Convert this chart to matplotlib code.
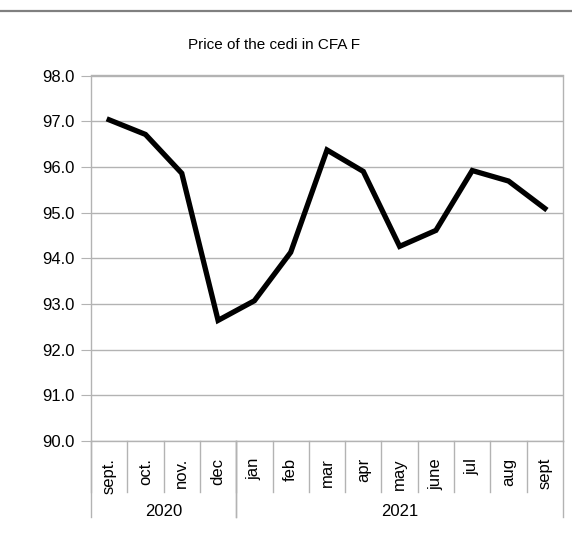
import matplotlib
matplotlib.use("Agg")
import matplotlib.pyplot as plt
from matplotlib.lines import Line2D

plt.rcParams["font.family"] = ["Liberation Sans", "DejaVu Sans"]

months = ["sept.", "oct.", "nov.", "dec", "jan", "feb", "mar",
          "apr", "may", "june", "jul", "aug", "sept"]
prices = [97.03, 96.71, 95.86, 92.64, 93.07, 94.13, 96.37,
          95.90, 94.26, 94.61, 95.92, 95.69, 95.09]
years = ["2020", "2021"]
year_spans = [(0, 3), (4, 12)]

GRID = "#b3b3b3"
W, H = 572, 554

fig = plt.figure(figsize=(W / 100, H / 100), dpi=100)
ax = fig.add_axes([91 / W, 1 - 441 / H, (563 - 91) / W, (441 - 75.5) / H])

x = list(range(len(months)))
ax.plot(x, prices, color="black", lw=3.8, solid_joinstyle="miter", zorder=3)

ax.set_xlim(-0.5, len(months) - 0.5)
ax.set_ylim(90, 98)
ax.set_yticks([90 + i for i in range(9)])
ax.set_yticklabels([f"{90 + i:.1f}" for i in range(9)], fontsize=12)
ax.yaxis.grid(True, color=GRID, lw=1)
ax.set_axisbelow(True)
ax.tick_params(axis="y", length=7.5, color=GRID, pad=4.5)
ax.set_xticks([])
for s in ax.spines.values():
    s.set_color(GRID)
    s.set_linewidth(1)

trans = ax.get_xaxis_transform()
ph = 441 - 75.5
# category separators and labels
for i, m in enumerate(months):
    ax.plot([i - 0.5, i - 0.5], [0, -51 / ph], transform=trans, color=GRID,
            lw=1, clip_on=False)
    ax.text(i, -17 / ph, m, transform=trans, rotation=90, ha="center",
            va="top", fontsize=12)
# year separators and labels
for (a, b), yr in zip(year_spans, years):
    for xb in (a - 0.5, b + 0.5):
        ax.plot([xb, xb], [0, -76 / ph], transform=trans, color=GRID,
                lw=1, clip_on=False)
    ax.text((a + b) / 2, -71 / ph, yr, transform=trans, ha="center",
            va="center", fontsize=12)

fig.text(274 / W, 1 - 45 / H, "Price of the cedi in CFA F", ha="center",
         va="center", fontsize=11)
fig.add_artist(Line2D([0, 1], [1 - 11 / H, 1 - 11 / H], color="#808080",
                      lw=1.6, transform=fig.transFigure))

fig.savefig("out.png", dpi=100)
